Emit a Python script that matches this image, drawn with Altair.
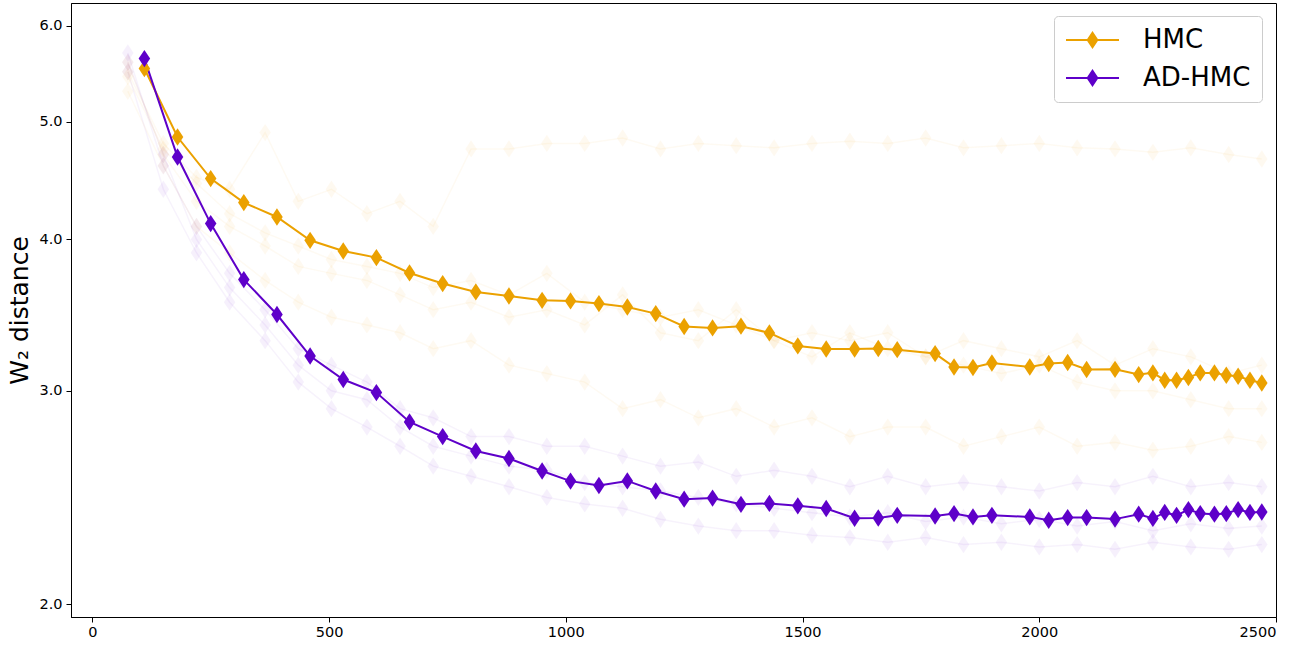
import altair as alt
import pandas as pd

# ---- main (mean) curves ----
steps = [110, 180, 250, 320, 390, 460, 530, 600, 670, 740,
         810, 880, 950, 1010, 1070, 1130, 1190, 1250, 1310, 1370,
         1430, 1490, 1550, 1610, 1660, 1700, 1780, 1820, 1860, 1900,
         1980, 2020, 2060, 2100, 2160, 2210, 2240, 2265, 2290, 2315,
         2340, 2370, 2395, 2420, 2445, 2470]
hmc = [5.534, 4.859, 4.490, 4.290, 4.174, 3.993, 3.913, 3.864, 3.753, 3.678,
       3.620, 3.592, 3.563, 3.559, 3.541, 3.518, 3.474, 3.390, 3.381, 3.392,
       3.349, 3.267, 3.248, 3.248, 3.251, 3.244, 3.220, 3.139, 3.136, 3.163,
       3.139, 3.160, 3.166, 3.124, 3.125, 3.094, 3.104, 3.061, 3.061, 3.077,
       3.104, 3.104, 3.090, 3.084, 3.061, 3.045]
adhmc = [5.640, 4.678, 4.122, 3.706, 3.468, 3.205, 3.065, 2.990, 2.828, 2.750,
         2.676, 2.638, 2.576, 2.527, 2.506, 2.528, 2.480, 2.442, 2.447, 2.418,
         2.422, 2.411, 2.399, 2.355, 2.356, 2.368, 2.365, 2.376, 2.361, 2.368,
         2.361, 2.346, 2.358, 2.358, 2.351, 2.373, 2.354, 2.381, 2.368, 2.394,
         2.376, 2.373, 2.376, 2.394, 2.381, 2.383]

# ---- faint individual runs (estimated from the background cloud) ----
run_steps = [75, 150, 220, 290, 365, 435, 505, 580, 650, 720,
             800, 880, 960, 1040, 1120, 1200, 1280, 1360, 1440, 1520,
             1600, 1680, 1760, 1840, 1920, 2000, 2080, 2160, 2240, 2320,
             2400, 2470]
hmc_run_a = [5.5, 4.8, 4.5, 4.4, 4.9, 4.3, 4.4, 4.2, 4.3, 4.1, 4.75, 4.75, 4.8, 4.8, 4.85, 4.75,
             4.8, 4.78, 4.76, 4.8, 4.82, 4.8, 4.85, 4.76, 4.78, 4.8, 4.76, 4.75, 4.72, 4.76, 4.7, 4.66]
hmc_run_b = [5.6, 4.7, 4.3, 4.1, 3.95, 3.8, 3.75, 3.7, 3.6, 3.5, 3.55, 3.45, 3.5, 3.4, 3.6, 3.35,
             3.3, 3.5, 3.3, 3.2, 3.35, 3.25, 3.2, 3.3, 3.25, 3.2, 3.3, 3.15, 3.25, 3.2, 3.1, 3.15]
hmc_run_c = [5.3, 4.6, 4.1, 3.9, 3.7, 3.55, 3.45, 3.4, 3.35, 3.25, 3.3, 3.15, 3.1, 3.05, 2.9, 2.95,
             2.85, 2.9, 2.8, 2.85, 2.75, 2.8, 2.8, 2.7, 2.75, 2.8, 2.7, 2.72, 2.68, 2.7, 2.75, 2.72]
hmc_run_d = [5.45, 4.75, 4.45, 4.2, 4.05, 3.95, 3.85, 3.8, 3.75, 3.65, 3.7, 3.6, 3.75, 3.55, 3.5, 3.45,
             3.5, 3.4, 3.3, 3.35, 3.3, 3.35, 3.2, 3.15, 3.1, 3.15, 3.05, 3.0, 3.0, 2.95, 2.9, 2.9]
ad_run_e = [5.7, 4.6, 4.1, 3.75, 3.5, 3.25, 3.15, 3.05, 2.9, 2.85, 2.75, 2.75, 2.7, 2.7, 2.65, 2.6,
            2.62, 2.55, 2.58, 2.55, 2.5, 2.55, 2.5, 2.52, 2.5, 2.48, 2.52, 2.5, 2.55, 2.5, 2.52, 2.5]
ad_run_f = [5.5, 4.4, 3.9, 3.55, 3.3, 3.05, 2.9, 2.8, 2.7, 2.6, 2.55, 2.5, 2.45, 2.42, 2.4, 2.35,
            2.32, 2.3, 2.3, 2.28, 2.27, 2.25, 2.27, 2.24, 2.25, 2.23, 2.24, 2.22, 2.25, 2.23, 2.22, 2.24]
ad_run_g = [5.6, 4.7, 4.0, 3.65, 3.4, 3.15, 3.0, 2.95, 2.8, 2.7, 2.65, 2.6, 2.58, 2.52, 2.5, 2.48,
            2.45, 2.42, 2.4, 2.38, 2.36, 2.38, 2.34, 2.36, 2.33, 2.35, 2.32, 2.34, 2.3, 2.33, 2.31, 2.32]

methods = ["HMC", "AD-HMC"]
colors = ["#EBA100", "#5E00C9"]

main = pd.DataFrame(
    {"step": steps + steps,
     "w2": hmc + adhmc,
     "method": ["HMC"] * len(steps) + ["AD-HMC"] * len(steps)}
)

runs = []
for rid, (m, vals) in enumerate([("HMC", hmc_run_a), ("HMC", hmc_run_b), ("HMC", hmc_run_c),
                                 ("HMC", hmc_run_d), ("AD-HMC", ad_run_e), ("AD-HMC", ad_run_f),
                                 ("AD-HMC", ad_run_g)]):
    for s, v in zip(run_steps, vals):
        runs.append({"step": s, "w2": v, "method": m, "run": rid})
runs = pd.DataFrame(runs)

diamond = "M0,-1L0.667,0L0,1L-0.667,0Z"
# legend glyph: a thin filled bar (the line) plus a filled diamond, both clockwise
legend_symbol = ("M-1,-0.085L3.417,-0.085L3.417,0.085L-1,0.085Z"
                 "M1.208,-0.75L1.708,0L1.208,0.75L0.708,0Z")

xs = alt.Scale(domain=[-45, 2500], nice=False, zero=False)
ys = alt.Scale(type="log", domain=[1.952, 6.268], nice=False)
cs = alt.Scale(domain=methods, range=colors)

x_enc = alt.X("step:Q", scale=xs,
              axis=alt.Axis(title=None, values=[0, 500, 1000, 1500, 2000, 2500], format="d"))
y_enc = alt.Y("w2:Q", scale=ys,
              axis=alt.Axis(title="W₂ distance", values=[2, 3, 4, 5, 6], format=".1f"))

legend = alt.Legend(
    title=None, orient="none", legendX=983, legendY=13,
    symbolType=legend_symbol, symbolSize=576, symbolStrokeWidth=0,
    labelFontSize=26, labelFont="DejaVu Sans", labelOffset=52,
    rowPadding=12, padding=11, fillColor="white", strokeColor="#cccccc",
    cornerRadius=4, labelColor="black", symbolOpacity=1,
)

faint_lines = alt.Chart(runs).mark_line(strokeWidth=1.5, opacity=0.05, clip=True).encode(
    x=x_enc, y=y_enc, color=alt.Color("method:N", scale=cs, legend=None), detail="run:N")
faint_pts = alt.Chart(runs).mark_point(shape=diamond, filled=True, size=300, opacity=0.06,
                                       clip=True).encode(
    x=x_enc, y=y_enc, color=alt.Color("method:N", scale=cs, legend=None))

main_lines = alt.Chart(main).mark_line(strokeWidth=2, clip=True).encode(
    x=x_enc, y=y_enc, color=alt.Color("method:N", scale=cs, legend=None))

main_pts = alt.Chart(main).mark_point(shape=diamond, filled=True, size=300, opacity=1,
                                      clip=True).encode(
    x=x_enc, y=y_enc,
    color=alt.Color("method:N", scale=cs, legend=legend, sort=methods))

chart = alt.layer(faint_lines, faint_pts, main_lines, main_pts).resolve_legend(
    color="independent"
).properties(
    width=1205, height=614, autosize="none",
    padding={"left": 71, "top": 3, "right": 34, "bottom": 31},
    background="white",
).configure_view(stroke="black", strokeWidth=1).configure_axis(
    grid=False, domainColor="black", domainWidth=1, tickColor="black", tickSize=5,
    tickWidth=1, labelFont="DejaVu Sans", labelFontSize=14.5, labelColor="black",
    titleFont="DejaVu Sans", titleFontSize=25, titleFontWeight="normal", titleColor="black",
    labelPadding=3,
).configure_axisY(labelPadding=4, titlePadding=6)

chart.save("out.html", embed_options={"renderer": "svg", "actions": False})
